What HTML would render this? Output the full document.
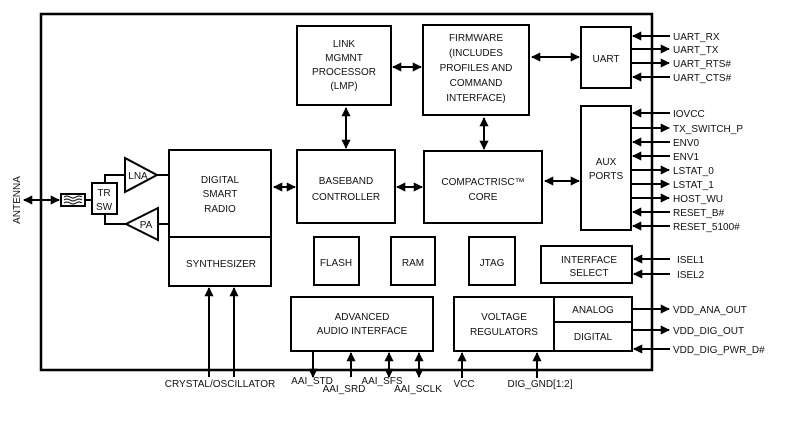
<!DOCTYPE html>
<html><head><meta charset="utf-8"><style>
html,body{margin:0;padding:0;background:#fff}
svg{display:block}
text{font-family:"Liberation Sans",sans-serif;font-size:10px;fill:#111}
</style></head><body>
<svg width="796" height="428" viewBox="0 0 796 428" xmlns="http://www.w3.org/2000/svg">
<defs>
<marker id="a" viewBox="0 0 10 10" refX="9" refY="5" markerWidth="4.6" markerHeight="4.6" orient="auto-start-reverse"><path d="M0,0L10,5L0,10z" fill="#000"/></marker>
</defs>
<g fill="none" stroke="#000" stroke-width="2">
<path d="M41,14H652V370H41Z" stroke-width="2.5"/>
<rect x="297" y="26" width="94" height="79"/>
<rect x="423" y="25" width="106" height="90"/>
<rect x="581" y="27" width="50" height="61"/>
<rect x="581" y="106" width="50" height="124"/>
<rect x="541" y="246" width="91" height="37"/>
<rect x="554" y="297" width="78" height="54"/><path d="M554,322H632"/>
<rect x="454" y="297" width="100" height="54"/>
<rect x="291" y="297" width="142" height="54"/>
<rect x="169" y="150" width="102" height="136"/><path d="M169,237H271"/>
<rect x="297" y="150" width="98" height="73"/>
<rect x="424" y="151" width="118" height="72"/>
<rect x="314" y="237" width="45" height="48"/>
<rect x="391" y="237" width="44" height="48"/>
<rect x="469" y="237" width="46" height="48"/>
<path d="M125,158L157,175L125,192Z"/>
<path d="M158,208L126,224L158,240Z"/>
<path d="M157,175H169M158,224H169M125,175H105V183M126,224H105V214"/>
<rect x="92" y="183" width="25" height="31"/>
<rect x="61" y="194" width="24" height="12"/>
<path d="M64,197q3,-2 6,0t6,0t6,0M64,200q3,-2 6,0t6,0t6,0M64,203q3,-2 6,0t6,0t6,0" stroke-width="1"/>
<path d="M85,200H92"/>
</g>
<g stroke="#000" stroke-width="2" fill="none">
<path d="M24,200H59" marker-start="url(#a)" marker-end="url(#a)"/>
<path d="M274,187H295" marker-start="url(#a)" marker-end="url(#a)"/>
<path d="M393,67H421" marker-start="url(#a)" marker-end="url(#a)"/>
<path d="M346,108V148" marker-start="url(#a)" marker-end="url(#a)"/>
<path d="M484,118V149" marker-start="url(#a)" marker-end="url(#a)"/>
<path d="M397,187H422" marker-start="url(#a)" marker-end="url(#a)"/>
<path d="M532,57H579" marker-start="url(#a)" marker-end="url(#a)"/>
<path d="M545,181H579" marker-start="url(#a)" marker-end="url(#a)"/>
<path d="M209,377V288" marker-end="url(#a)"/>
<path d="M234,377V288" marker-end="url(#a)"/>
<path d="M313,352V377" marker-end="url(#a)"/>
<path d="M351,377V353" marker-end="url(#a)"/>
<path d="M389,353V377" marker-start="url(#a)" marker-end="url(#a)"/>
<path d="M419,353V377" marker-start="url(#a)" marker-end="url(#a)"/>
<path d="M462,378V353" marker-end="url(#a)"/>
<path d="M537,378V353" marker-end="url(#a)"/>
<path d="M670,36H633" marker-end="url(#a)"/>
<path d="M631,49H669" marker-end="url(#a)"/>
<path d="M631,63H669" marker-end="url(#a)"/>
<path d="M670,77H633" marker-end="url(#a)"/>
<path d="M670,113H633" marker-end="url(#a)"/>
<path d="M631,128H669" marker-end="url(#a)"/>
<path d="M670,142H633" marker-end="url(#a)"/>
<path d="M670,156H633" marker-end="url(#a)"/>
<path d="M631,170H669" marker-end="url(#a)"/>
<path d="M631,184H669" marker-end="url(#a)"/>
<path d="M631,198H669" marker-end="url(#a)"/>
<path d="M670,212H633" marker-end="url(#a)"/>
<path d="M670,226H633" marker-end="url(#a)"/>
<path d="M670,259H634" marker-end="url(#a)"/>
<path d="M670,274H634" marker-end="url(#a)"/>
<path d="M632,309H669" marker-end="url(#a)"/>
<path d="M632,330H669" marker-end="url(#a)"/>
<path d="M670,349H634" marker-end="url(#a)"/>
</g>
<g text-anchor="middle">
<text x="344" y="47">LINK</text><text x="344" y="61">MGMNT</text><text x="344" y="75">PROCESSOR</text><text x="344" y="89">(LMP)</text>
<text x="476" y="41">FIRMWARE</text><text x="476" y="56">(INCLUDES</text><text x="476" y="71">PROFILES AND</text><text x="476" y="86">COMMAND</text><text x="476" y="101">INTERFACE)</text>
<text x="606" y="62">UART</text>
<text x="606" y="165">AUX</text><text x="606" y="179">PORTS</text>
<text x="589" y="263">INTERFACE</text><text x="589" y="276">SELECT</text>
<text x="593" y="313">ANALOG</text><text x="593" y="340">DIGITAL</text>
<text x="504" y="320">VOLTAGE</text><text x="504" y="335">REGULATORS</text>
<text x="362" y="320">ADVANCED</text><text x="362" y="334">AUDIO INTERFACE</text>
<text x="220" y="183">DIGITAL</text><text x="220" y="197">SMART</text><text x="220" y="212">RADIO</text>
<text x="221" y="267">SYNTHESIZER</text>
<text x="346" y="184">BASEBAND</text><text x="346" y="200">CONTROLLER</text>
<text x="483" y="185">COMPACTRISC™</text><text x="483" y="200">CORE</text>
<text x="336" y="266">FLASH</text><text x="413" y="266">RAM</text><text x="492" y="266">JTAG</text>
<text x="104" y="196">TR</text><text x="104" y="210">SW</text>
<text x="138" y="179">LNA</text><text x="146" y="228">PA</text>
<text x="220" y="387">CRYSTAL/OSCILLATOR</text>
<text x="312" y="384">AAI_STD</text><text x="344" y="392">AAI_SRD</text>
<text x="382" y="384">AAI_SFS</text><text x="418" y="392">AAI_SCLK</text>
<text x="464" y="387">VCC</text><text x="540" y="387">DIG_GND[1:2]</text>
</g>
<text x="20" y="200" text-anchor="middle" transform="rotate(-90 20 200)">ANTENNA</text>
<g>
<text x="673" y="40">UART_RX</text><text x="673" y="53">UART_TX</text><text x="673" y="67">UART_RTS#</text><text x="673" y="81">UART_CTS#</text>
<text x="673" y="117">IOVCC</text><text x="673" y="132">TX_SWITCH_P</text><text x="673" y="146">ENV0</text><text x="673" y="160">ENV1</text>
<text x="673" y="174">LSTAT_0</text><text x="673" y="188">LSTAT_1</text><text x="673" y="202">HOST_WU</text><text x="673" y="216">RESET_B#</text><text x="673" y="230">RESET_5100#</text>
<text x="677" y="263">ISEL1</text><text x="677" y="278">ISEL2</text>
<text x="673" y="313">VDD_ANA_OUT</text><text x="673" y="334">VDD_DIG_OUT</text><text x="673" y="353">VDD_DIG_PWR_D#</text>
</g>
</svg>
</body></html>
